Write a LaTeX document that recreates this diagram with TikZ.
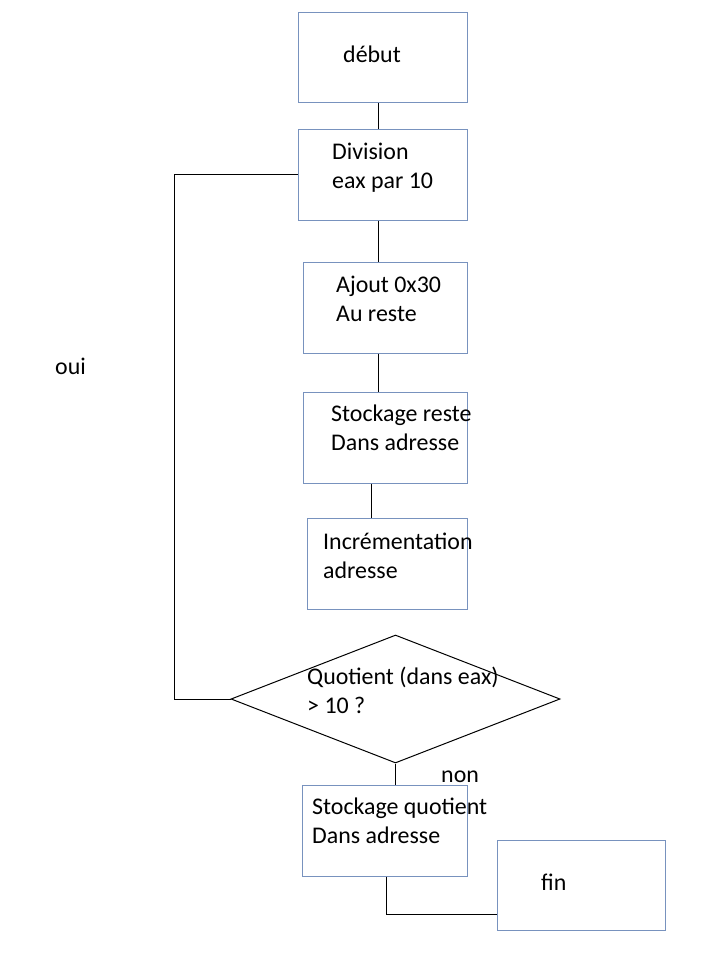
\documentclass[tikz,border=0pt]{standalone}
\usepackage{fontspec}
\setmainfont{Carlito}
\usetikzlibrary{shapes.geometric}
\definecolor{boxblue}{RGB}{120,146,190}
\tikzset{
  boxline/.style={draw=boxblue, line width=1pt, inner sep=0pt},
  txt/.style={anchor=base west, inner sep=0pt, align=left, font=\fontsize{23.9}{29}\selectfont},
  link/.style={draw=black, line width=1pt}
}
\begin{document}
\begin{tikzpicture}[x=1pt,y=1pt,yscale=-1,xscale=1]
\useasboundingbox (0,0) rectangle (720,960);
%Shape: Rectangle [debut]
\node[boxline, minimum width=169, minimum height=90] (debut) at (382.5,58) {};
%Shape: Rectangle [division]
\node[boxline, minimum width=169, minimum height=90] (div) at (382.5,175) {};
%Shape: Rectangle [ajout]
\node[boxline, minimum width=164, minimum height=91] (ajout) at (385,307.5) {};
%Shape: Rectangle [stockage reste]
\node[boxline, minimum width=164, minimum height=91] (stock) at (385,437.5) {};
%Shape: Rectangle [incrementation]
\node[boxline, minimum width=160, minimum height=91] (incr) at (387,563.5) {};
%Shape: Diamond [test]
\node[draw, line width=1pt, shape=diamond, inner sep=0pt, minimum width=329, minimum height=128] (dia) at (395.5,699) {};
%Shape: Rectangle [stockage quotient]
\node[boxline, minimum width=165, minimum height=91] (stockq) at (384.5,830.5) {};
%Shape: Rectangle [fin]
\node[boxline, minimum width=168, minimum height=90] (fin) at (581,885) {};
\coordinate (finIn) at (497,914);
%Straight Lines
\draw[link] ([xshift=-4.5pt]debut.south) -- ([xshift=-4.5pt]div.north);
\draw[link] ([xshift=-4.5pt]div.south) -- ([xshift=-7pt]ajout.north);
\draw[link] ([xshift=-7pt]ajout.south) -- ([xshift=-7pt]stock.north);
\draw[link] ([xshift=-14pt]stock.south) -- ([xshift=-16pt]incr.north);
\draw[link] (dia.south) -- (dia.south |- stockq.north);
\draw[link] ([xshift=1.5pt]stockq.south) |- (finIn);
%Loop back
\draw[link] (dia.west) -- ++(-56,0) |- (div.west);
% Text Node (base = last line)
\node[txt] (tDebut) at (343,63) {début};
\node[txt] (tDiv) at (332,189) {Division\\eax par 10};
\node[txt] (tAjout) at (336,321) {Ajout 0x30\\Au reste};
\node[txt] (tStock) at (331,450) {Stockage reste\\Dans adresse};
\node[txt] (tIncr) at (323,578) {Incrémentation\\adresse};
\node[txt] (tDia) at (307,713) {Quotient (dans eax)\\> 10 ?};
\node[txt] (tStockq) at (312,843) {Stockage quotient\\Dans adresse};
\node[txt] (tFin) at (541,890) {fin};
\node[txt] (tOui) at (55,374) {oui};
\node[txt] (tNon) at (441,782) {non};
\end{tikzpicture}
\end{document}
